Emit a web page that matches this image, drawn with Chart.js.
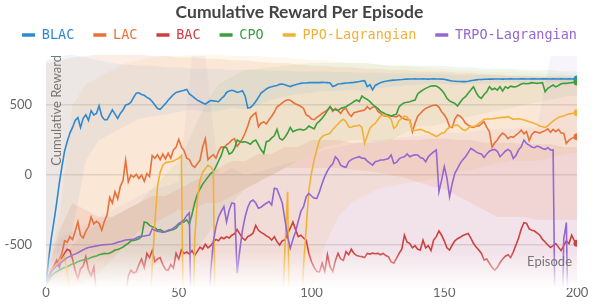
<!DOCTYPE html>
<html>
<head>
<meta charset="utf-8">
<script src="https://cdn.jsdelivr.net/npm/chart.js@4.4.1/dist/chart.umd.min.js"></script>
<style>
    html, body { margin: 0; padding: 0; background: #fff; }
</style>
</head>
<body>
<canvas id="myChart" width="599" height="306"></canvas>
<script>
// x ticks every episode, bands sampled every 5 episodes
const episodes = Array.from({length: 201}, (_, i) => i);
const bandEpisodes = Array.from({length: 41}, (_, i) => i * 5);
const xTicks = [0, 50, 100, 150, 200];
const yTicks = [-500, 0, 500];

const seriesNames = ['BLAC', 'LAC', 'BAC', 'CPO', 'PPO-Lagrangian', 'TRPO-Lagrangian'];
const seriesColors = ['#2f89cf', '#e8713b', '#cc4040', '#3c9e3e', '#f2b136', '#9467d1'];
const bandAlpha = [0.08, 0.12, 0.1, 0.08, 0.1, 0.07];

const blac = [
    -780, -600, -450, -330, -200, -60, 60, 170, 240, 300,
    340, 390, 410, 340, 405, 430, 390, 460, 430, 440,
    495, 420, 395, 395, 430, 465, 435, 405, 440, 465,
    500, 505, 520, 555, 585, 588, 575, 570, 555, 545,
    525, 500, 475, 470, 490, 510, 535, 555, 575, 590,
    595, 600, 605, 612, 580, 565, 550, 535, 525, 515,
    507, 520, 532, 530, 527, 524, 545, 562, 590, 600,
    605, 600, 590, 595, 602, 565, 478, 483, 500, 525,
    555, 585, 600, 615, 625, 630, 636, 640, 648, 650,
    645, 638, 632, 640, 645, 650, 655, 657, 658, 660,
    660, 660, 661, 660, 662, 661, 660, 658, 632, 640,
    650, 652, 655, 657, 658, 660, 662, 665, 668, 672,
    674, 632, 645, 608, 640, 650, 660, 667, 670, 673,
    676, 678, 679, 681, 682, 684, 685, 686, 686, 687,
    686, 686, 687, 686, 685, 686, 687, 686, 686, 685,
    684, 680, 676, 672, 670, 668, 668, 667, 667, 670,
    674, 677, 680, 682, 683, 684, 684, 685, 685, 686,
    686, 686, 685, 686, 686, 687, 686, 686, 686, 687,
    687, 686, 686, 687, 687, 686, 686, 687, 687, 686,
    686, 687, 686, 686, 687, 686, 686, 687, 686, 686,
    686
];

const lac = [
    -780, -720, -680, -650, -640, -600, -560, -470, -480, -440,
    -460, -400, -335, -430, -450, -400, -370, -300, -350, -330,
    -345, -395, -330, -285, -160, -200, -120, -170, -80, -40,
    105, -50, 0, -15, 5, -25, 0, -45, 10, -10,
    140, 120, 145, 110, 150, 115, 155, 120, 180, 200,
    255, 200, 175, 120, 110, 70, 55, 80, 105, 200,
    260, 110, 130, 145, 120, 170, 200, 195, 215, 230,
    250, 260, 205, 230, 260, 300, 350, 410, 430, 445,
    345, 370, 380, 365, 395, 420, 450, 488, 500, 515,
    530, 538, 535, 520, 507, 500, 490, 476, 430, 420,
    400, 395, 412, 425, 440, 452, 465, 488, 455, 476,
    460, 440, 470, 476, 440, 420, 445, 450, 455, 460,
    464, 488, 470, 485, 488, 455, 440, 425, 421, 425,
    420, 418, 415, 429, 410, 400, 395, 393, 310, 370,
    420, 440, 460, 476, 485, 493, 498, 500, 485, 452,
    430, 400, 345, 340, 400, 429, 420, 400, 370, 357,
    345, 340, 350, 350, 365, 381, 340, 310, 198, 230,
    250, 280, 300, 286, 260, 275, 269, 285, 300, 321,
    295, 310, 245, 290, 310, 305, 300, 310, 317, 330,
    305, 326, 310, 326, 300, 298, 226, 250, 262, 270,
    274
];

const bac = [
    -780, -740, -690, -650, -610, -660, -590, -560, -530, -540,
    -600, -680, -740, -670, -650, -585, -680, -720, -660, -850,
    -950, -1000, -1000, -1000, -1000, -1000, -1000, -1000, -950, -900,
    -850, -720, -680, -700, -690, -640, -600, -660, -560, -590,
    -540, -620, -600, -590, -640, -675, -680, -640, -665, -560,
    -600, -535, -560, -550, -565, -540, -575, -545, -515, -530,
    -495, -520, -505, -480, -460, -470, -445, -455, -440, -450,
    -430, -420, -390, -420, -450, -465, -440, -430, -415, -360,
    -395, -410, -420, -435, -445, -465, -440, -476, -500, -470,
    -465, -420, -380, -335, -390, -440, -430, -450, -465, -560,
    -620, -660, -690, -692, -630, -690, -570, -655, -690, -610,
    -560, -600, -610, -548, -570, -530, -560, -575, -580, -583,
    -590, -560, -565, -558, -562, -560, -570, -560, -575, -585,
    -620, -630, -595, -560, -530, -430, -480, -488, -520, -505,
    -530, -535, -465, -520, -505, -540, -465, -440, -400, -430,
    -470, -520, -536, -500, -470, -455, -445, -432, -425, -417,
    -450, -488, -515, -536, -560, -607, -600, -630, -660, -679,
    -660, -625, -600, -580, -570, -590, -550, -500, -450, -385,
    -340, -345, -385, -395, -400, -415, -430, -460, -478, -500,
    -517, -505, -490, -515, -540, -505, -470, -490, -430, -470,
    -488
];

const cpo = [
    -780, -750, -720, -702, -690, -680, -670, -660, -655, -645,
    -635, -630, -620, -612, -607, -602, -598, -590, -583, -578,
    -570, -565, -560, -562, -558, -548, -536, -532, -524, -515,
    -500, -488, -470, -468, -462, -455, -440, -335, -340, -360,
    -370, -375, -393, -390, -402, -405, -400, -395, -390, -380,
    -355, -345, -335, -320, -350, -280, -200, -140, -100, -65,
    -40, -15, 10, 25, 60, 100, 140, 200, 195, 150,
    160, 190, 250, 240, 235, 238, 230, 220, 240, 250,
    215, 180, 155, 238, 245, 265, 280, 326, 262, 250,
    270, 300, 340, 310, 318, 325, 326, 320, 330, 350,
    340, 330, 369, 385, 405, 430, 460, 488, 464, 468,
    460, 476, 482, 488, 500, 512, 525, 536, 525, 564,
    550, 540, 524, 505, 488, 476, 455, 445, 435, 429,
    421, 428, 435, 488, 505, 517, 520, 524, 530, 536,
    579, 595, 608, 619, 628, 636, 638, 636, 625, 607,
    583, 548, 530, 520, 512, 493, 520, 545, 560, 585,
    607, 631, 590, 560, 548, 575, 595, 631, 610, 620,
    607, 631, 600, 631, 620, 635, 630, 631, 640, 650,
    655, 652, 655, 660, 658, 655, 658, 660, 595, 620,
    632, 643, 630, 640, 652, 655, 655, 658, 660, 663,
    665
];

const ppoLag = [
    -780, -720, -680, -660, -640, -625, -605, -585, -700, -850,
    -1500, -1500, -1500, -1500, -1500, -1500, -1500, -1500, -1500, -1500,
    -1500, -1500, -1500, -1500, -1500, -1500, -1500, -1500, -1500, -1500,
    -1500, -1500, -1500, -1500, -1500, -1500, -1500, -1500, -1500, -1000,
    -650, -350, -80, 20, 70, 88, 92, 95, 100, 110,
    120, 140, -1500, -1500, -1500, -1500, -460, -180, -40, 20,
    45, 70, 60, 30, -1500, -1500, -1500, -1500, -1500, -1500,
    -1500, -1500, -1500, -1500, -1500, -1500, -1500, -1500, -1500, -1500,
    -1500, -1500, -1500, -1500, -1500, -1500, -1500, -1500, -1500, -1000,
    -520, -120, -1500, -1500, -1500, -1500, -1000, -650, -380, -110,
    15, 110, 180, 250, 274, 286, 292, 298, 326, 345,
    365, 385, 398, 381, 345, 340, 352, 350, 357, 340,
    226, 280, 335, 355, 369, 395, 421, 429, 425, 415,
    398, 333, 350, 390, 405, 421, 415, 385, 321, 318,
    324, 326, 320, 310, 305, 295, 286, 274, 285, 300,
    300, 326, 340, 350, 355, 357, 340, 325, 317, 335,
    350, 345, 355, 368, 381, 398, 400, 400, 402, 405,
    408, 410, 412, 412, 417, 408, 398, 400, 402, 398,
    393, 388, 380, 375, 369, 360, 350, 345, 340, 352,
    369, 385, 400, 412, 418, 421, 430, 436, 440, 442,
    445
];

const trpoLag = [
    -780, -720, -690, -670, -650, -635, -620, -605, -590, -582,
    -572, -565, -555, -545, -535, -525, -518, -514, -510, -506,
    -503, -500, -498, -496, -495, -493, -488, -480, -476, -470,
    -464, -462, -461, -460, -450, -440, -438, -436, -432, -429,
    -385, -395, -402, -405, -410, -405, -395, -390, -380, -365,
    -345, -335, -320, -290, -270, -1500, -1500, -1500, -1500, -1500,
    -1500, -1500, -700, -480, -370, -300, -260, -226, -335, -250,
    -200, -205, -702, -536, -393, -298, -230, -190, -179, -200,
    -238, -230, -214, -202, -190, -214, -95, -100, -150, -200,
    -320, -440, -524, -460, -405, -330, -260, -226, -155, -131,
    -150, -165, -167, -120, -60, -10, 30, 60, 80, 131,
    110, 70, 60, 55, 95, 110, 119, 126, 131, 120,
    119, 100, 85, 71, 95, 100, 107, 107, 112, 118,
    143, 83, 90, 115, 126, 130, 150, 130, 140, 145,
    143, 125, 119, 95, 130, 150, 165, 179, -119, -36,
    60, -20, -155, -60, 12, 48, 83, 110, 131, 160,
    190, 179, 165, 155, 150, 126, 150, 170, 179, 183,
    170, 131, 150, 170, 183, 170, 119, 140, 180, 202,
    250, 225, 214, 200, 195, 207, 200, 190, 183, 195,
    179, 180, -1500, -1500, -1500, -460, -340, -1500, -1500, -1500,
    -1500
];

// min / max bands
const blacUpper = [
    820, 850, 860, 840, 820, 800, 790, 780, 780, 770,
    770, 760, 760, 760, 750, 750, 750, 745, 745, 740,
    740, 740, 735, 735, 730, 730, 725, 725, 720, 720,
    720, 715, 715, 715, 710, 710, 710, 710, 705, 705,
    705
];
const blacLower = [
    -800, -700, -400, 100, 250, 300, 350, 400, 420, 430,
    450, 470, 450, 460, 480, 470, 500, 540, 560, 580,
    590, 600, 600, 610, 600, 620, 630, 640, 645, 650,
    650, 645, 650, 655, 655, 660, 660, 662, 662, 665,
    665
];
const lacUpper = [
    800, 820, 840, 850, 860, 860, 860, 860, 850, 850,
    840, 840, 830, 830, 820, 820, 810, 800, 800, 790,
    780, 780, 770, 770, 760, 760, 750, 750, 740, 740,
    740, 730, 730, 720, 720, 710, 710, 700, 700, 700,
    690
];
const lacLower = [
    -800, -800, -800, -750, -700, -600, -500, -400, -350, -300,
    -250, -250, -200, -200, -150, -100, -50, 0, 50, 50,
    50, 50, 50, 40, 30, 20, 0, -20, -50, -80,
    -100, -150, -200, -250, -300, -300, -300, -320, -320, -320,
    -320
];
const bacUpper = [
    -700, -400, -200, -250, -300, -300, -250, -200, -150, -150,
    -100, -50, 0, 50, 100, 100, 150, 150, 200, 200,
    250, 250, 250, 230, 230, 230, 250, 250, 250, 260,
    260, 250, 250, 230, 230, 230, 220, 220, 220, 200,
    200
];
const bacLower = [
    -850, -850, -850, -850, -850, -850, -850, -850, -850, -850,
    -850, -850, -850, -850, -850, -850, -850, -850, -850, -850,
    -850, -850, -850, -850, -850, -850, -850, -850, -850, -850,
    -850, -850, -850, -850, -850, -850, -850, -850, -850, -850,
    -850
];
const cpoUpper = [
    -700, -600, -500, -400, -350, -300, -250, -200, -100, 0,
    100, 300, 500, 650, 700, 750, 760, 770, 780, 790,
    800, 800, 800, 800, 800, 790, 780, 780, 780, 780,
    780, 770, 770, 760, 760, 760, 750, 750, 750, 740,
    740
];
const cpoLower = [
    -800, -800, -800, -780, -760, -740, -720, -700, -650, -620,
    -600, -550, -450, -300, -200, -100, -50, 0, 50, 100,
    150, 200, 220, 250, 250, 230, 250, 300, 350, 350,
    370, 400, 420, 440, 460, 480, 500, 520, 540, 560,
    570
];
const ppoUpper = [
    -700, -300, 500, 650, 700, 750, 800, 820, 840, 850,
    850, 860, 860, 860, 850, 850, 850, 840, 840, 830,
    820, 820, 810, 800, 800, 790, 780, 780, 770, 760,
    760, 750, 750, 740, 740, 740, 730, 730, 720, 720,
    710
];
const ppoLower = [
    -850, -850, -850, -850, -850, -850, -850, -850, -850, -850,
    -850, -850, -850, -850, -850, -850, -850, -850, -850, -850,
    -850, -500, -300, -200, -150, -100, -80, -60, -50, -30,
    0, 20, 40, 60, 80, 100, 100, 100, 120, 150,
    160
];
const trpoUpper = [
    -700, -450, -400, -350, -300, -250, -200, -150, -100, -80,
    -50, 850, 850, 0, 50, 0, 20, 50, 80, 100,
    150, 180, 200, 220, 240, 250, 260, 270, 280, 290,
    300, 300, 310, 320, 330, 330, 340, 340, 850, 850,
    850
];
const trpoLower = [
    -850, -850, -850, -850, -850, -850, -850, -850, -850, -850,
    -850, -850, -850, -850, -850, -850, -850, -850, -850, -850,
    -850, -850, -850, -850, -850, -850, -850, -850, -850, -850,
    -850, -850, -850, -850, -850, -850, -850, -850, -850, -850,
    -850
];

const lines = [blac, lac, bac, cpo, ppoLag, trpoLag];
const uppers = [blacUpper, lacUpper, bacUpper, cpoUpper, ppoUpper, trpoUpper];
const lowers = [blacLower, lacLower, bacLower, cpoLower, ppoLower, trpoLower];

function rgba(hex, a) {
    const n = parseInt(hex.slice(1), 16);
    return 'rgba(' + (n >> 16) + ',' + ((n >> 8) & 255) + ',' + (n & 255) + ',' + a + ')';
}

var datasets = [];
seriesNames.forEach(function (name, i) {
    datasets.push({
        label: name,
        data: lines[i].map((v, j) => ({x: episodes[j], y: v})),
        borderColor: seriesColors[i],
        backgroundColor: seriesColors[i],
        borderWidth: 1.6,
        pointRadius: ctx => ctx.dataIndex === lines[i].length - 1 ? 3.5 : 0,
        pointBorderWidth: 0,
        pointHoverRadius: 0,
        tension: 0,
        fill: false,
        order: 6 - i
    });
});
seriesNames.forEach(function (name, i) {
    datasets.push({
        label: name + ' max',
        data: uppers[i].map((v, j) => ({x: bandEpisodes[j], y: v})),
        borderWidth: 0,
        pointRadius: 0,
        backgroundColor: rgba(seriesColors[i], bandAlpha[i]),
        fill: '+1',
        order: 20 + i
    });
    datasets.push({
        label: name + ' min',
        data: lowers[i].map((v, j) => ({x: bandEpisodes[j], y: v})),
        borderWidth: 0,
        pointRadius: 0,
        fill: false,
        order: 20 + i
    });
});

// fade at the bottom + axis titles inside the plot
const overlay = {
    id: 'overlay',
    afterDatasetsDraw(chart) {
        const {ctx, chartArea: a} = chart;
        const xEnd = chart.scales.x.getPixelForValue(200) + 3;
        const g = ctx.createLinearGradient(0, a.bottom - 36, 0, a.bottom);
        g.addColorStop(0, 'rgba(255,255,255,0)');
        g.addColorStop(1, 'rgba(255,255,255,0.96)');
        ctx.save();
        ctx.fillStyle = g;
        ctx.fillRect(a.left, a.bottom - 36, xEnd - a.left, 37);
        ctx.restore();
    },
    afterDraw(chart) {
        const {ctx, chartArea: a} = chart;
        ctx.save();
        ctx.font = '13px Lato';
        ctx.fillStyle = '#777';
        ctx.textBaseline = 'middle';
        ctx.textAlign = 'right';
        ctx.fillText('Episode', a.right - 5, a.bottom - 25);
        ctx.translate(a.left + 11, a.top + 10);
        ctx.rotate(-Math.PI / 2);
        ctx.fillText('Cumulative Reward', 0, 0);
        ctx.restore();
    }
};

const ctx = document.getElementById('myChart');
new Chart(ctx, {
    type: 'line',
    data: {datasets: datasets},
    plugins: [overlay],
    options: {
        responsive: false,
        animation: false,
        layout: {padding: 0},
        plugins: {
            title: {
                display: true,
                text: 'Cumulative Reward Per Episode',
                color: '#444',
                font: {family: 'Lato', size: 17.5, weight: 'bold'},
                padding: {top: 1.5, bottom: -13.25}
            },
            legend: {
                display: true,
                maxHeight: 35.75,
                labels: {
                    usePointStyle: true,
                    pointStyleWidth: 13,
                    padding: 19,
                    font: {family: 'DejaVu Sans Mono', size: 13.5},
                    generateLabels: chart => seriesNames.map((name, i) => ({
                        text: name,
                        fontColor: seriesColors[i],
                        strokeStyle: seriesColors[i],
                        fillStyle: seriesColors[i],
                        lineWidth: 3.5,
                        lineCap: 'butt',
                        pointStyle: 'line',
                        hidden: false,
                        datasetIndex: i
                    }))
                }
            },
            tooltip: {enabled: false}
        },
        scales: {
            x: {
                type: 'linear',
                min: 0,
                max: 200,
                afterBuildTicks: s => { s.ticks = xTicks.map(v => ({value: v})); },
                afterFit: s => { s.height = 19; },
                grid: {display: false, drawTicks: false},
                border: {display: false},
                ticks: {color: '#666', font: {family: 'Lato', size: 13}, padding: -2, maxRotation: 0}
            },
            y: {
                type: 'linear',
                min: -800,
                max: 929,
                z: 1,
                afterBuildTicks: s => { s.ticks = yTicks.map(v => ({value: v})); },
                afterFit: s => { s.width = 46; s.paddingTop = 0; s.paddingBottom = 0; },
                grid: {color: 'rgba(222,222,222,0.9)', lineWidth: 1.5, drawTicks: false},
                border: {display: false},
                ticks: {color: '#666', font: {family: 'Lato', size: 13}, padding: 14}
            },
            yRight: {
                type: 'linear',
                position: 'right',
                afterFit: s => { s.width = 22; s.paddingTop = 0; s.paddingBottom = 0; },
                grid: {display: false},
                border: {display: false},
                ticks: {display: false}
            }
        }
    }
});
</script>
</body>
</html>
